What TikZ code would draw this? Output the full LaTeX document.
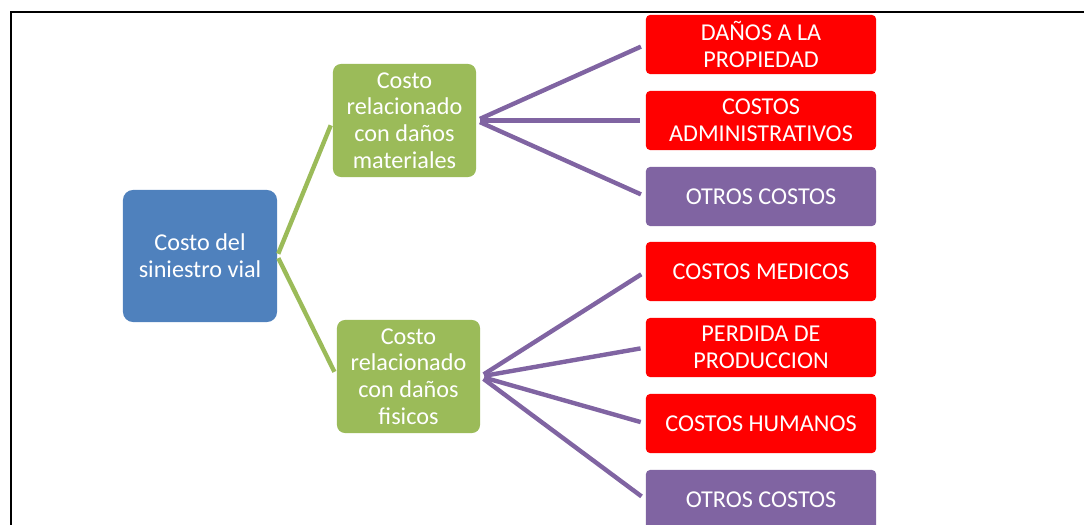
\documentclass[tikz,border=0pt]{standalone}
\usepackage{fontspec}
\setmainfont{Carlito}
\usetikzlibrary{positioning}
\definecolor{raizazul}{HTML}{4F81BD}
\definecolor{ramaverde}{HTML}{9BBB59}
\definecolor{otromorado}{HTML}{8064A2}
\definecolor{costorojo}{HTML}{FF0000}
\begin{document}
\begin{tikzpicture}[x=0.025cm,y=-0.025cm,
    caja/.style={text=white,align=center,font=\fontsize{17.2pt}{19pt}\selectfont,inner sep=0pt},
    raiz/.style={caja,fill=raizazul,rounded corners=0.25cm,minimum width=3.85cm,minimum height=3.3cm},
    rama/.style={caja,fill=ramaverde,rounded corners=0.2cm,minimum width=3.575cm,minimum height=2.825cm},
    hoja/.style={caja,fill=costorojo,rounded corners=0.1cm,minimum width=5.75cm,minimum height=1.475cm},
    otros/.style={hoja,fill=otromorado},
    lineaverde/.style={draw=ramaverde,line width=0.11cm,shorten <=0.06cm,shorten >=0.13cm},
    lineamorada/.style={draw=otromorado,line width=0.11cm,shorten <=0.1cm,shorten >=0.13cm}]
        \useasboundingbox (0,0) rectangle (1084,525);
        \draw[line width=0.05cm] (11,525) -- (11,12) -- (1084,12);
        \node[raiz] (costo) at (200,256) {Costo del\\siniestro vial};
        \node[rama] (materiales) at (404.5,120.5) {Costo\\relacionado\\con daños\\materiales};
        \node[rama] (fisicos) at (408.5,376.5) {Costo\\relacionado\\con daños\\fisicos};
        \node[hoja] (propiedad) at (761,44.5) {DAÑOS A LA\\PROPIEDAD};
        \node[hoja] (admin) at (761,120.5) {COSTOS\\ADMINISTRATIVOS};
        \node[otros] (otrosa) at (761,196.5) {OTROS COSTOS};
        \node[hoja] (medicos) at (761,271.5) {COSTOS MEDICOS};
        \node[hoja] (produccion) at (761,347.5) {PERDIDA DE\\PRODUCCION};
        \node[hoja] (humanos) at (761,423.5) {COSTOS HUMANOS};
        \node[otros] (otrosb) at (761,499.5) {OTROS COSTOS};
        \draw[lineaverde] (costo.east) -- (materiales.west);
        \draw[lineaverde] (costo.east) -- (fisicos.west);
        \foreach \h in {propiedad,admin,otrosa}
            \draw[lineamorada] (materiales.east) -- (\h.west);
        \foreach \h in {medicos,produccion,humanos,otrosb}
            \draw[lineamorada] (fisicos.east) -- (\h.west);
      \end{tikzpicture}
\end{document}
